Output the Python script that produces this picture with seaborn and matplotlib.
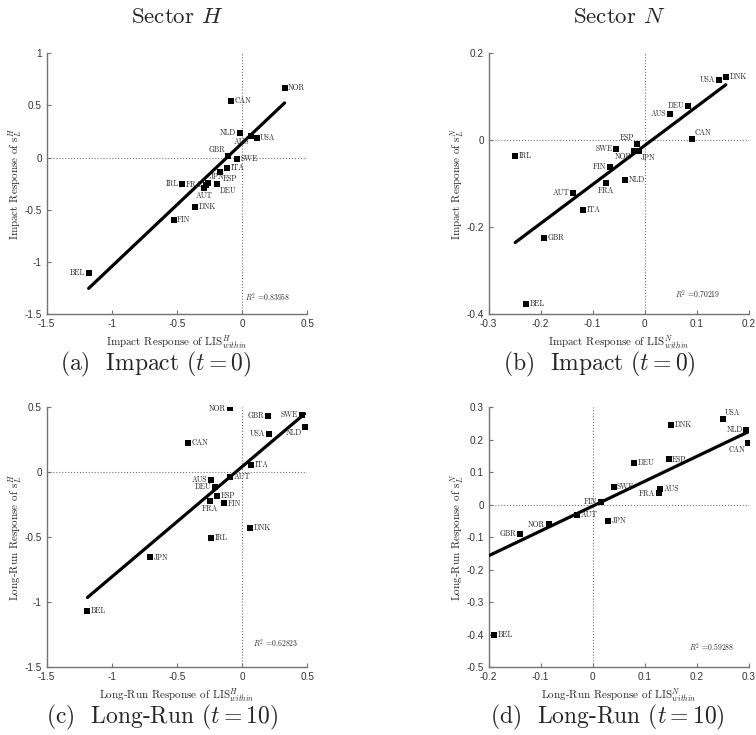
import numpy as np
import pandas as pd
import matplotlib
matplotlib.use('Agg')
import matplotlib.pyplot as plt
import seaborn as sns

# (a) impact, sector H
countries_a = ['NOR', 'CAN', 'NLD', 'AUS', 'USA', 'GBR', 'SWE', 'ITA', 'ESP', 'JPN', 'DEU',
               'FRA', 'AUT', 'IRL', 'DNK', 'FIN', 'BEL']
lis_a = [0.326, -0.086, -0.017, 0.07, 0.111, -0.11, -0.042, -0.117, -0.17, -0.265, -0.19,
         -0.28, -0.29, -0.46, -0.36, -0.526, -1.178]
sl_a = [0.665, 0.545, 0.235, 0.21, 0.187, 0.01, -0.01, -0.1, -0.143, -0.245, -0.255,
        -0.265, -0.29, -0.255, -0.47, -0.593, -1.106]

# (b) impact, sector N
countries_b = ['USA', 'DNK', 'DEU', 'AUS', 'CAN', 'ESP', 'SWE', 'NOR', 'JPN', 'FIN', 'FRA',
               'NLD', 'AUT', 'ITA', 'IRL', 'GBR', 'BEL']
lis_b = [0.1435, 0.156, 0.083, 0.049, 0.0915, -0.015, -0.055, -0.0205, -0.0115, -0.067, -0.074,
         -0.0385, -0.138, -0.118, -0.249, -0.194, -0.228]
sl_b = [0.138, 0.145, 0.079, 0.06, 0.003, -0.008, -0.02, -0.025, -0.026, -0.061, -0.098,
        -0.092, -0.1215, -0.161, -0.036, -0.224, -0.377]

# (c) long-run, sector H
countries_c = ['NOR', 'GBR', 'SWE', 'NLD', 'USA', 'CAN', 'ITA', 'AUS', 'AUT', 'DEU', 'ESP',
               'FRA', 'FIN', 'DNK', 'IRL', 'JPN', 'BEL']
lis_c = [-0.097, 0.199, 0.457, 0.48, 0.205, -0.418, 0.07, -0.24, -0.093, -0.205, -0.195,
         -0.245, -0.14, 0.061, -0.24, -0.705, -1.187]
sl_c = [0.492, 0.431, 0.44, 0.35, 0.295, 0.228, 0.059, -0.06, -0.038, -0.11, -0.18,
        -0.223, -0.24, -0.425, -0.502, -0.654, -1.066]

# (d) long-run, sector N (ITA, IRL fall outside the shown range)
countries_d = ['USA', 'NLD', 'CAN', 'DNK', 'ESP', 'DEU', 'AUS', 'FRA', 'SWE', 'FIN', 'AUT',
               'JPN', 'NOR', 'GBR', 'BEL']
lis_d = [0.25, 0.295, 0.298, 0.15, 0.146, 0.08, 0.13, 0.128, 0.04, 0.015, -0.03,
         0.03, -0.085, -0.14, -0.19]
sl_d = [0.265, 0.23, 0.19, 0.245, 0.14, 0.13, 0.05, 0.035, 0.055, 0.01, -0.03,
        -0.05, -0.06, -0.09, -0.40]
# fitted line of (d) (fit uses countries off the axes too)
fit_d = (-0.004, 0.764)  # intercept, slope

r2 = ['0.83958', '0.70219', '0.62823', '0.59288']

# where each country name sits relative to its marker
where_a = ['r', 'r', 'l', 'dl', 'r', 'ul', 'r', 'r', 'dr', 'ur', 'dr', 'l', 'd', 'l', 'r', 'r', 'l']
where_b = ['l', 'r', 'l', 'l', 'ur', 'ul', 'l', 'dl', 'dr', 'l', 'd', 'r', 'l', 'r', 'r', 'r', 'r']
where_c = ['l', 'l', 'l', 'dl', 'l', 'r', 'r', 'l', 'r', 'l', 'r', 'd', 'r', 'r', 'r', 'r', 'r']
where_d = ['ur', 'l', 'dl', 'r', 'r', 'r', 'r', 'l', 'r', 'l', 'r', 'r', 'l', 'l', 'r']

sns.set_style('ticks')
plt.rcParams['font.family'] = ['Liberation Sans', 'DejaVu Sans']
plt.rcParams['mathtext.fontset'] = 'cm'
plt.rcParams['axes.unicode_minus'] = False
SERIF = 'cmr10'

offs = {'r': (2.6, 0, 'left', 'center'), 'l': (-2.6, 0, 'right', 'center'),
        'u': (0, 2.5, 'center', 'bottom'), 'd': (0, -2.5, 'center', 'top'),
        'ur': (1.8, 1.5, 'left', 'bottom'), 'ul': (-1.8, 1.5, 'right', 'bottom'),
        'dr': (1.8, -1.5, 'left', 'top'), 'dl': (-1.8, -1.5, 'right', 'top')}

W, H = 756, 735
fig = plt.figure(figsize=(W / 100, H / 100), dpi=100)


def px_axes(l, t, w, h):
    return fig.add_axes([l / W, 1 - (t + h) / H, w / W, h / H])


panels = [
    dict(c=countries_a, x=lis_a, y=sl_a, w=where_a, fit=None, pos=(46.7, 53, 260.6, 261.3),
         xlim=(-1.5, 0.5), ylim=(-1.5, 1), xt=[-1.5, -1, -0.5, 0, 0.5], yt=[-1.5, -1, -0.5, 0, 0.5, 1],
         xl='Impact Response of LIS$^{H}_{within}$', yl='Impact Response of s$_{L}^{H}$',
         r2pos=(0.02, -1.34), cap='(a)  Impact ($t=0$)', capx=156),
    dict(c=countries_b, x=lis_b, y=sl_b, w=where_b, fit=None, pos=(488.7, 53, 260, 261.3),
         xlim=(-0.3, 0.2), ylim=(-0.4, 0.2), xt=[-0.3, -0.2, -0.1, 0, 0.1, 0.2], yt=[-0.4, -0.2, 0, 0.2],
         xl='Impact Response of LIS$^{N}_{within}$', yl='Impact Response of s$_{L}^{N}$',
         r2pos=(0.058, -0.356), cap='(b)  Impact ($t=0$)', capx=599),
    dict(c=countries_c, x=lis_c, y=sl_c, w=where_c, fit=None, pos=(46.7, 407.3, 260.6, 260),
         xlim=(-1.5, 0.5), ylim=(-1.5, 0.5), xt=[-1.5, -1, -0.5, 0, 0.5], yt=[-1.5, -1, -0.5, 0, 0.5],
         xl='Long-Run Response of LIS$^{H}_{within}$', yl='Long-Run Response of s$_{L}^{H}$',
         r2pos=(0.08, -1.32), cap='(c)  Long-Run ($t=10$)', capx=162),
    dict(c=countries_d, x=lis_d, y=sl_d, w=where_d, fit=fit_d, pos=(488.7, 407.3, 260, 260),
         xlim=(-0.2, 0.3), ylim=(-0.5, 0.3), xt=[-0.2, -0.1, 0, 0.1, 0.2, 0.3],
         yt=[-0.5, -0.4, -0.3, -0.2, -0.1, 0, 0.1, 0.2, 0.3],
         xl='Long-Run Response of LIS$^{N}_{within}$', yl='Long-Run Response of s$_{L}^{N}$',
         r2pos=(0.186, -0.44), cap='(d)  Long-Run ($t=10$)', capx=607),
]

for i, p in enumerate(panels):
    ax = px_axes(*p['pos'])
    df = pd.DataFrame({'country': p['c'], 'lis': p['x'], 'sl': p['y']})
    ax.axhline(0, ls=':', color='0.45', lw=0.8, zorder=1)
    ax.axvline(0, ls=':', color='0.45', lw=0.8, zorder=1)
    if p['fit'] is None:
        sns.regplot(data=df, x='lis', y='sl', ax=ax, scatter=False, ci=None, truncate=True,
                    line_kws=dict(color='k', lw=2.3, zorder=3))
    else:
        b0, b1 = p['fit']
        ax.axline((0, b0), slope=b1, color='k', lw=2.3, zorder=3)
    sns.scatterplot(data=df, x='lis', y='sl', ax=ax, marker='s', s=13, color='k',
                    linewidth=0, zorder=4)
    for name, xv, yv, wh in zip(df['country'], df['lis'], df['sl'], p['w']):
        dx, dy, ha, va = offs[wh]
        ax.annotate(name, (xv, yv), xytext=(dx, dy), textcoords='offset points',
                    ha=ha, va=va, fontsize=5.5, family=SERIF, zorder=5)
    ax.text(p['r2pos'][0], p['r2pos'][1], '$R^2$ =' + r2[i], fontsize=5.5, family=SERIF,
            va='center')
    ax.set_xlim(p['xlim'])
    ax.set_ylim(p['ylim'])
    ax.set_xticks(p['xt'])
    ax.set_yticks(p['yt'])
    ax.set_xticklabels(['%g' % v for v in p['xt']])
    ax.set_yticklabels(['%g' % v for v in p['yt']])
    ax.tick_params(direction='in', length=3, width=0.8, color='0.45', labelsize=7.2,
                   labelcolor='0.2', pad=3.5)
    sns.despine(ax=ax)
    for s in ['left', 'bottom']:
        ax.spines[s].set_color('0.45')
        ax.spines[s].set_linewidth(1.0)
    ax.set_xlabel(p['xl'], fontsize=8, family=SERIF)
    ax.set_ylabel(p['yl'], fontsize=8, family=SERIF)
    ax.xaxis.set_label_coords(0.5, -20 / p['pos'][3])
    ax.yaxis.set_label_coords(-23 / p['pos'][2], 0.5)
    cy = p['pos'][1] + p['pos'][3] + 50
    fig.text(p['capx'] / W, 1 - cy / H, p['cap'], fontsize=17, family=SERIF,
             ha='center', va='center')

fig.text(177 / W, 1 - 17 / H, 'Sector $H$', fontsize=16.5, family=SERIF, ha='center', va='center')
fig.text(619 / W, 1 - 17 / H, 'Sector $N$', fontsize=16.5, family=SERIF, ha='center', va='center')

fig.savefig('out.png', dpi=100)
